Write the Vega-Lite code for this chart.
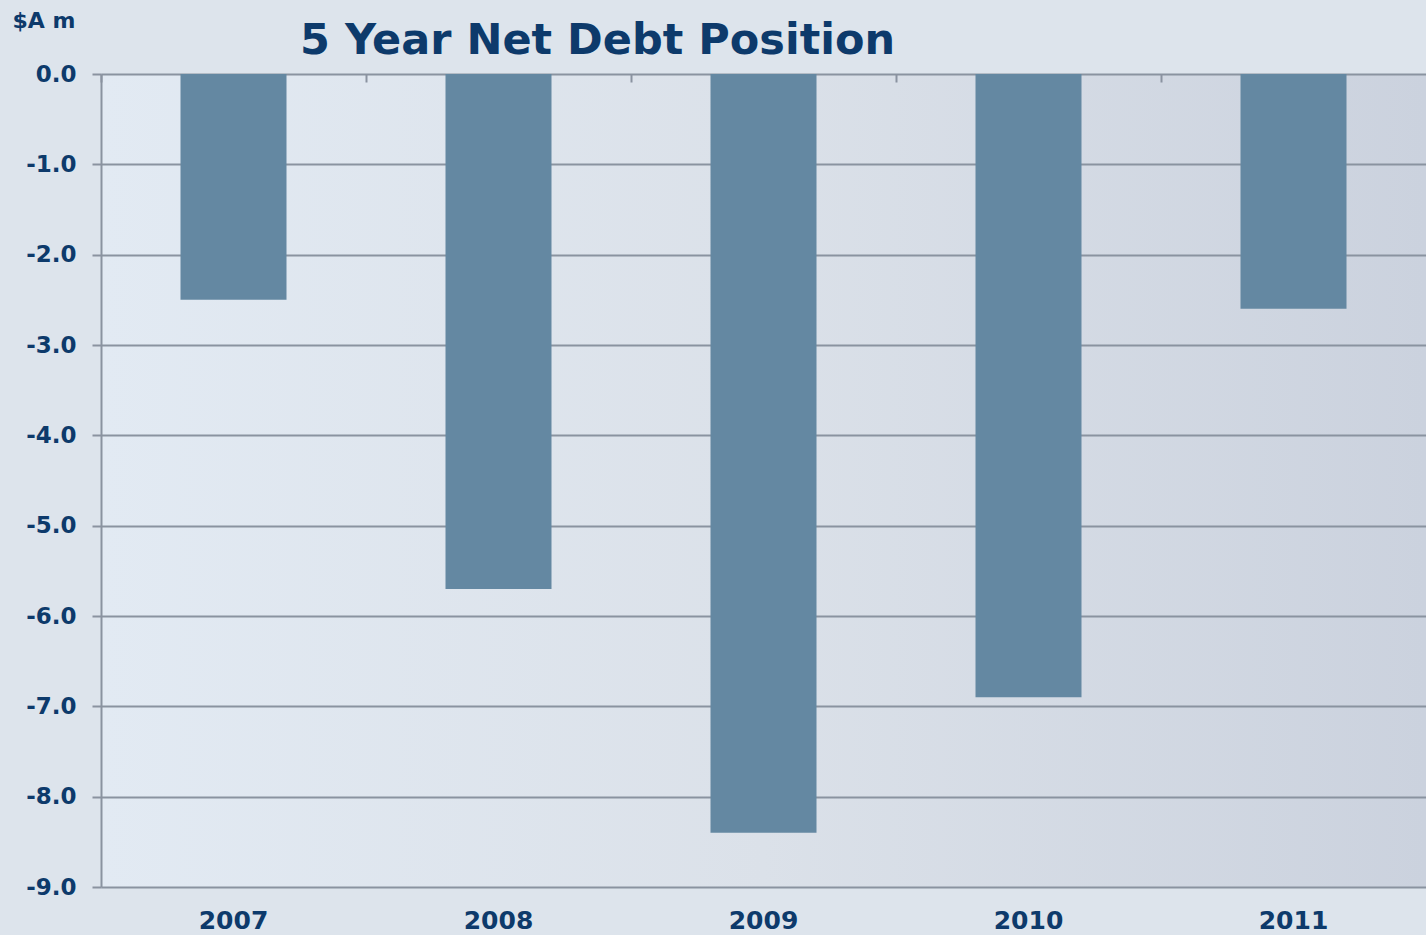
{
  "$schema": "https://vega.github.io/schema/vega-lite/v6.json",
  "autosize": {"type": "none"},
  "width": 1325,
  "height": 813,
  "padding": {"left": 101, "top": 74, "right": 0, "bottom": 48},
  "background": "#dde4ec",
  "config": {
    "view": {"stroke": null, "fill": {"gradient": "linear", "x1": 0, "y1": 0, "x2": 1, "y2": 0, "stops": [{"offset": 0, "color": "#e2eaf3"}, {"offset": 0.5, "color": "#dbe1e9"}, {"offset": 1, "color": "#cbd2de"}]}},
    "font": "DejaVu Sans",
    "axis": {"labelColor": "#0d3a6b", "titleColor": "#0d3a6b", "labelFont": "DejaVu Sans", "labelFontWeight": "bold"}
  },
  "title": {
    "text": "5 Year Net Debt Position",
    "anchor": "start",
    "frame": "group",
    "dx": 199,
    "offset": -54,
    "fontSize": 43,
    "fontWeight": "bold",
    "color": "#0d3a6b",
    "font": "DejaVu Sans"
  },
  "data": {
    "values": [
      {"year": "2007", "value": -2.5},
      {"year": "2008", "value": -5.7},
      {"year": "2009", "value": -8.4},
      {"year": "2010", "value": -6.9},
      {"year": "2011", "value": -2.6}
    ]
  },
  "layer": [
    {
      "mark": {"type": "bar", "color": "#6488a2"},
      "encoding": {
        "x": {
          "field": "year", "type": "nominal",
          "scale": {"paddingInner": 0.6, "paddingOuter": 0.3},
          "axis": {"orient": "bottom", "title": null, "labelAngle": 0, "domain": false, "ticks": false, "labelFontSize": 25, "labelPadding": 21, "grid": false}
        },
        "y": {
          "field": "value", "type": "quantitative",
          "scale": {"domain": [-9, 0], "nice": false},
          "axis": {
            "values": [0, -1, -2, -3, -4, -5, -6, -7, -8, -9],
            "labelExpr": "datum.value == 0 ? '0.0' : '-' + format(-datum.value, '.1f')",
            "labelFontSize": 23,
            "tickSize": 9,
            "tickColor": "#8a93a0",
            "tickWidth": 2,
            "labelPadding": 16,
            "domainColor": "#8a93a0",
            "domainWidth": 2,
            "grid": true,
            "gridColor": "#8a93a0",
            "gridWidth": 2,
            "title": "$A m",
            "titleAngle": 0,
            "titleAlign": "left",
            "titleBaseline": "middle",
            "titleX": -89,
            "titleY": -54,
            "titleFontSize": 22,
            "titleFontWeight": "bold"
          }
        }
      }
    },
    {
      "mark": {"type": "bar", "opacity": 0},
      "encoding": {
        "x": {
          "field": "year", "type": "nominal",
          "axis": {"orient": "top", "title": null, "labels": false, "domain": false, "grid": false, "ticks": true, "bandPosition": 0, "tickOffset": -79.5, "tickSize": -8, "tickColor": "#8a93a0", "tickWidth": 2}
        },
        "y": {"field": "value", "type": "quantitative"}
      }
    }
  ],
  "resolve": {"axis": {"x": "independent"}}
}
